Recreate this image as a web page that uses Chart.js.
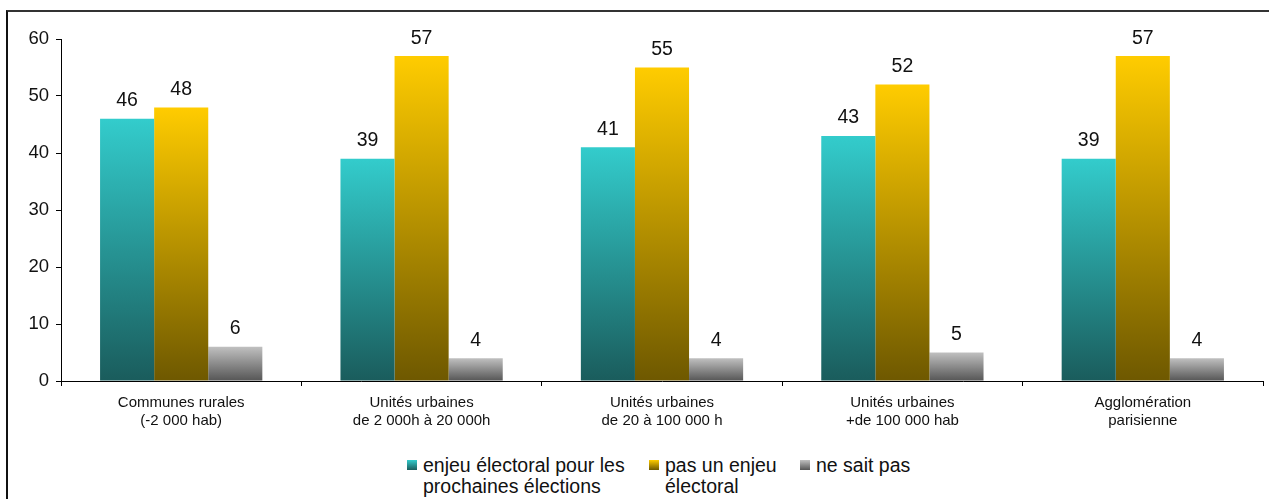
<!DOCTYPE html>
<html>
<head>
<meta charset="utf-8">
<script src="https://cdn.jsdelivr.net/npm/chart.js@4.4.1/dist/chart.umd.min.js"></script>
<style>
  html, body { margin: 0; padding: 0; background: #fff; overflow: hidden; }
  body { width: 1269px; height: 499px; position: relative; font-family: "Liberation Sans", Arial, sans-serif; }
  #frame { position: absolute; left: 6px; top: 10px; width: 1400px; height: 600px;
           border-left: 2px solid #111; border-top: 2px solid #333; }
  #chart { position: absolute; left: 0; top: 0; }
  .leg { position: absolute; top: 455px; font-size: 19.5px; line-height: 21px; color: #111; white-space: nowrap; }
  .box { position: absolute; top: 460px; width: 10px; height: 10px; }
</style>
</head>
<body>
<div id="frame"></div>
<canvas id="chart" width="1269" height="440"></canvas>

<div class="box" style="left:407px;background:linear-gradient(#33cccc,#1a5c5c)"></div>
<div class="leg" style="left:423px">enjeu électoral pour les<br>prochaines élections</div>
<div class="box" style="left:649px;background:linear-gradient(#ffcc00,#6e5800)"></div>
<div class="leg" style="left:665px">pas un enjeu<br>électoral</div>
<div class="box" style="left:800px;background:linear-gradient(#c0c0c0,#555555)"></div>
<div class="leg" style="left:816px">ne sait pas</div>

<script>
// Categories and values
const categories = [
    ['Communes rurales', '(-2 000 hab)'],
    ['Unités urbaines', 'de 2 000h à 20 000h'],
    ['Unités urbaines', 'de 20 à 100 000 h'],
    ['Unités urbaines', '+de 100 000 hab'],
    ['Agglomération', 'parisienne']
];
const seriesNames = ['enjeu électoral pour les prochaines élections', 'pas un enjeu électoral', 'ne sait pas'];
const enjeu = [46, 39, 41, 43, 39];
const pasEnjeu = [48, 57, 55, 52, 57];
const neSaitPas = [6, 4, 4, 5, 4];
const yTicks = [0, 10, 20, 30, 40, 50, 60];

const fontFamily = '"Liberation Sans", Arial, sans-serif';

// vertical gradient running over each bar's own height
function barGradient(top, bottom) {
    return function(context) {
        const chart = context.chart;
        if (!chart.chartArea || context.raw === undefined) return top;
        const y = chart.scales.y;
        const yTop = y.getPixelForValue(context.raw);
        const yBase = y.getPixelForValue(0);
        const g = chart.ctx.createLinearGradient(0, yTop, 0, yBase);
        g.addColorStop(0, top);
        g.addColorStop(1, bottom);
        return g;
    };
}

// values written above each bar
const valueLabels = {
    id: 'valueLabels',
    afterDatasetsDraw(chart) {
        const ctx = chart.ctx;
        ctx.save();
        ctx.font = '19.5px ' + fontFamily;
        ctx.fillStyle = '#111';
        ctx.textAlign = 'center';
        ctx.textBaseline = 'alphabetic';
        chart.data.datasets.forEach((ds, i) => {
            chart.getDatasetMeta(i).data.forEach((bar, j) => {
                ctx.fillText(ds.data[j], bar.x, bar.y - 12.5);
            });
        });
        ctx.restore();
    }
};

const ctx = document.getElementById('chart').getContext('2d');
const myChart = new Chart(ctx, {
    type: 'bar',
    data: {
        labels: categories,
        datasets: [
            { label: seriesNames[0], data: enjeu, backgroundColor: barGradient('#33cccc', '#1a5c5c') },
            { label: seriesNames[1], data: pasEnjeu, backgroundColor: barGradient('#ffcc00', '#6e5800') },
            { label: seriesNames[2], data: neSaitPas, backgroundColor: barGradient('#c0c0c0', '#555555') }
        ]
    },
    options: {
        responsive: false,
        animation: false,
        devicePixelRatio: 1,
        layout: { padding: { top: 39, right: 6, bottom: 0, left: 0 } },
        datasets: { bar: { categoryPercentage: 0.675, barPercentage: 1.0, borderWidth: 0 } },
        plugins: {
            legend: { display: false },
            tooltip: { enabled: false }
        },
        scales: {
            x: {
                grid: { drawOnChartArea: false, tickLength: 5, color: '#000', offset: true },
                border: { color: '#000', width: 1 },
                ticks: {
                    maxRotation: 0,
                    autoSkip: false,
                    padding: 8,
                    color: '#111',
                    font: { family: fontFamily, size: 15, lineHeight: 1.2 }
                },
                afterFit(scale) { scale.height = 59; }
            },
            y: {
                min: 0,
                max: 60,
                afterBuildTicks(scale) { scale.ticks = yTicks.map(v => ({ value: v })); },
                grid: { drawOnChartArea: false, tickLength: 5, color: '#000' },
                border: { color: '#000', width: 1 },
                ticks: {
                    padding: 7,
                    color: '#111',
                    font: { family: fontFamily, size: 18.5 }
                },
                afterFit(scale) { scale.width = 61; }
            }
        }
    },
    plugins: [valueLabels]
});
</script>
</body>
</html>
